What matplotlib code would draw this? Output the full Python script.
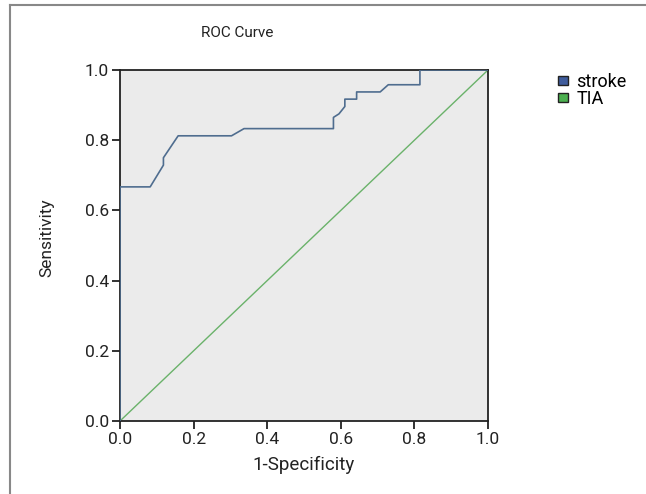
import matplotlib
matplotlib.use("Agg")
import matplotlib.pyplot as plt
from matplotlib.patches import Patch
from matplotlib.lines import Line2D

plt.rcParams['font.family'] = ['Roboto', 'DejaVu Sans']

# ROC curve data
stroke_fpr = [0.0, 0.0, 0.082, 0.118, 0.118, 0.158, 0.303, 0.337, 0.580, 0.580, 0.595, 0.611, 0.611, 0.643, 0.643, 0.707, 0.729, 0.815, 0.815, 1.0]
stroke_tpr = [0.0, 0.667, 0.667, 0.729, 0.750, 0.8125, 0.8125, 0.833, 0.833, 0.865, 0.875, 0.896, 0.917, 0.917, 0.9375, 0.9375, 0.958, 0.958, 1.0, 1.0]
tia_fpr = [0.0, 1.0]
tia_tpr = [0.0, 1.0]
series_names = ["stroke", "TIA"]
ticks = [0.0, 0.2, 0.4, 0.6, 0.8, 1.0]
tick_labels = ["0.0", "0.2", "0.4", "0.6", "0.8", "1.0"]

W, H = 646, 494
fig = plt.figure(figsize=(W / 100, H / 100), dpi=100)
fig.patch.set_facecolor('white')

ax = fig.add_axes([120 / W, 1 - 421 / H, (488 - 120) / W, (421 - 70) / H])
ax.set_facecolor('#ebebeb')

ax.plot(tia_fpr, tia_tpr, color='#6ab26a', lw=1.0, zorder=2)
ax.plot(stroke_fpr, stroke_tpr, color='#4f6d8f', lw=1.2, zorder=3)

ax.set_xlim(0, 1)
ax.set_ylim(0, 1)
ax.set_xticks(ticks)
ax.set_xticklabels(tick_labels)
ax.set_yticks(ticks)
ax.set_yticklabels(tick_labels)
ax.tick_params(direction='out', length=6, width=1.3, color='#222222', labelsize=12.5, labelcolor='#222222', pad=2)
for sp in ax.spines.values():
    sp.set_color('#222222')
    sp.set_linewidth(1.3)

fig.text(237 / W, 1 - 33 / H, "ROC Curve", ha='center', va='center', fontsize=11, color='#222222')
fig.text(47 / W, 1 - 238 / H, "Sensitivity", ha='center', va='center', rotation=90, fontsize=12.5, color='#222222')
fig.text(304 / W, 1 - 465 / H, "1-Specificity", ha='center', va='center', fontsize=13.5, color='#222222')

handles = [Patch(facecolor='#3f5c9c', edgecolor='#222222', lw=1.0),
           Patch(facecolor='#4cb050', edgecolor='#222222', lw=1.0)]
fig.legend(handles, series_names, loc='upper left', bbox_to_anchor=(554 / W, 1 - 69 / H),
           frameon=False, fontsize=13, handlelength=0.55, handleheight=0.4,
           handletextpad=0.5, labelspacing=-0.02, borderaxespad=0, borderpad=0.2)

# frame lines of the figure (left and top)
fig.add_artist(Line2D([10 / W, 10 / W], [0, 1 - 5 / H], transform=fig.transFigure, color='#888888', lw=1.5))
fig.add_artist(Line2D([10 / W, 1], [1 - 5 / H, 1 - 5 / H], transform=fig.transFigure, color='#888888', lw=1.5))

fig.savefig("out.png", dpi=100)
